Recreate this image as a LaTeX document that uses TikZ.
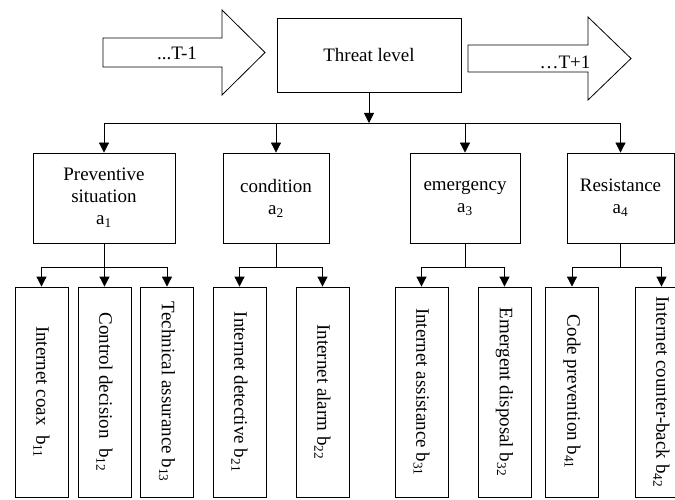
\documentclass[tikz,border=0pt]{standalone}
\usepackage{fontspec}
\setmainfont{Liberation Serif}
\usetikzlibrary{arrows.meta}
\begin{document}
\begin{tikzpicture}[x=1pt,y=-1pt,
  line width=0.8pt,
  every node/.style={font=\fontsize{19}{22}\selectfont},
  box/.style={draw, rectangle, inner sep=0pt, align=center},
  vbox/.style={draw, rectangle, inner sep=0pt, rotate=-90, minimum width=210pt, minimum height=53pt},
  arr/.style={-{Triangle[length=10pt,width=10pt]}},
  blockarrow/.style={draw, line width=0.8pt, line join=miter}]
\useasboundingbox (0,0) rectangle (675,500);
\clip (0,0) rectangle (675,500);

% block arrows
\draw[blockarrow] (103,38) -- (222,38) -- (222,10) -- (265,52.5) -- (222,95) -- (222,67) -- (103,67) -- cycle;
\draw[blockarrow] (468,45) -- (588,45) -- (588,17) -- (631,58.5) -- (588,100) -- (588,72) -- (468,72) -- cycle;
\node (tprev) at (177,53) {...T-1};
\node (tnext) at (565,62) {…T+1};

% top box
\node[box, minimum width=184pt, minimum height=74pt] (threat) at (369,55) {Threat level};

% level 1
\node[box, minimum width=142pt, minimum height=90pt] (a1) at (104,198) {Preventive\\situation\\a\textsubscript{1}};
\node[box, minimum width=106pt, minimum height=90pt] (a2) at (276,198) {condition\\a\textsubscript{2}};
\node[box, minimum width=110pt, minimum height=90pt] (a3) at (465,198) {emergency\\a\textsubscript{3}};
\node[box, minimum width=107pt, minimum height=90pt] (a4) at (620.5,198) {Resistance\\a\textsubscript{4}};

\coordinate (hub) at (369,123);
\draw[arr] (threat) -- (hub);
\draw (a1.north |- hub) -- (a4.north |- hub);
\foreach \n in {a1,a2,a3,a4} \draw[arr] (\n.north |- hub) -- (\n.north);

% level 2
\node[vbox] (b11) at (41.5,392) {Internet coax\ \ b\textsubscript{11}};
\node[vbox] (b12) at (104.5,392) {Control decision\ \ b\textsubscript{12}};
\node[vbox] (b13) at (167,392) {Technical assurance b\textsubscript{13}};
\node[vbox] (b21) at (239.5,392) {Internet detective b\textsubscript{21}};
\node[vbox] (b22) at (322.5,392) {Internet alarm b\textsubscript{22}};
\node[vbox] (b31) at (421.5,392) {Internet assistance b\textsubscript{31}};
\node[vbox] (b32) at (504.5,392) {Emergent disposal b\textsubscript{32}};
\node[vbox] (b41) at (572,392) {Code prevention b\textsubscript{41}};
\node[vbox] (b42) at (661.5,392) {Internet counter-back b\textsubscript{42}};

\coordinate (h1) at (104,267);
\coordinate (h2) at (276,267);
\coordinate (h3) at (465,267);
\coordinate (h4) at (620.5,267);

\draw (a1.south) -- (h1);
\draw (b11.west |- h1) -- (b13.west |- h1);
\foreach \n in {b11,b12,b13} \draw[arr] (\n.west |- h1) -- (\n.west);

\draw (a2.south) -- (h2);
\draw (b21.west |- h2) -- (b22.west |- h2);
\foreach \n in {b21,b22} \draw[arr] (\n.west |- h2) -- (\n.west);

\draw (a3.south) -- (h3);
\draw (b31.west |- h3) -- (b32.west |- h3);
\foreach \n in {b31,b32} \draw[arr] (\n.west |- h3) -- (\n.west);

\draw (a4.south) -- (h4);
\draw (b41.west |- h4) -- (b42.west |- h4);
\foreach \n in {b41,b42} \draw[arr] (\n.west |- h4) -- (\n.west);
\end{tikzpicture}
\end{document}
